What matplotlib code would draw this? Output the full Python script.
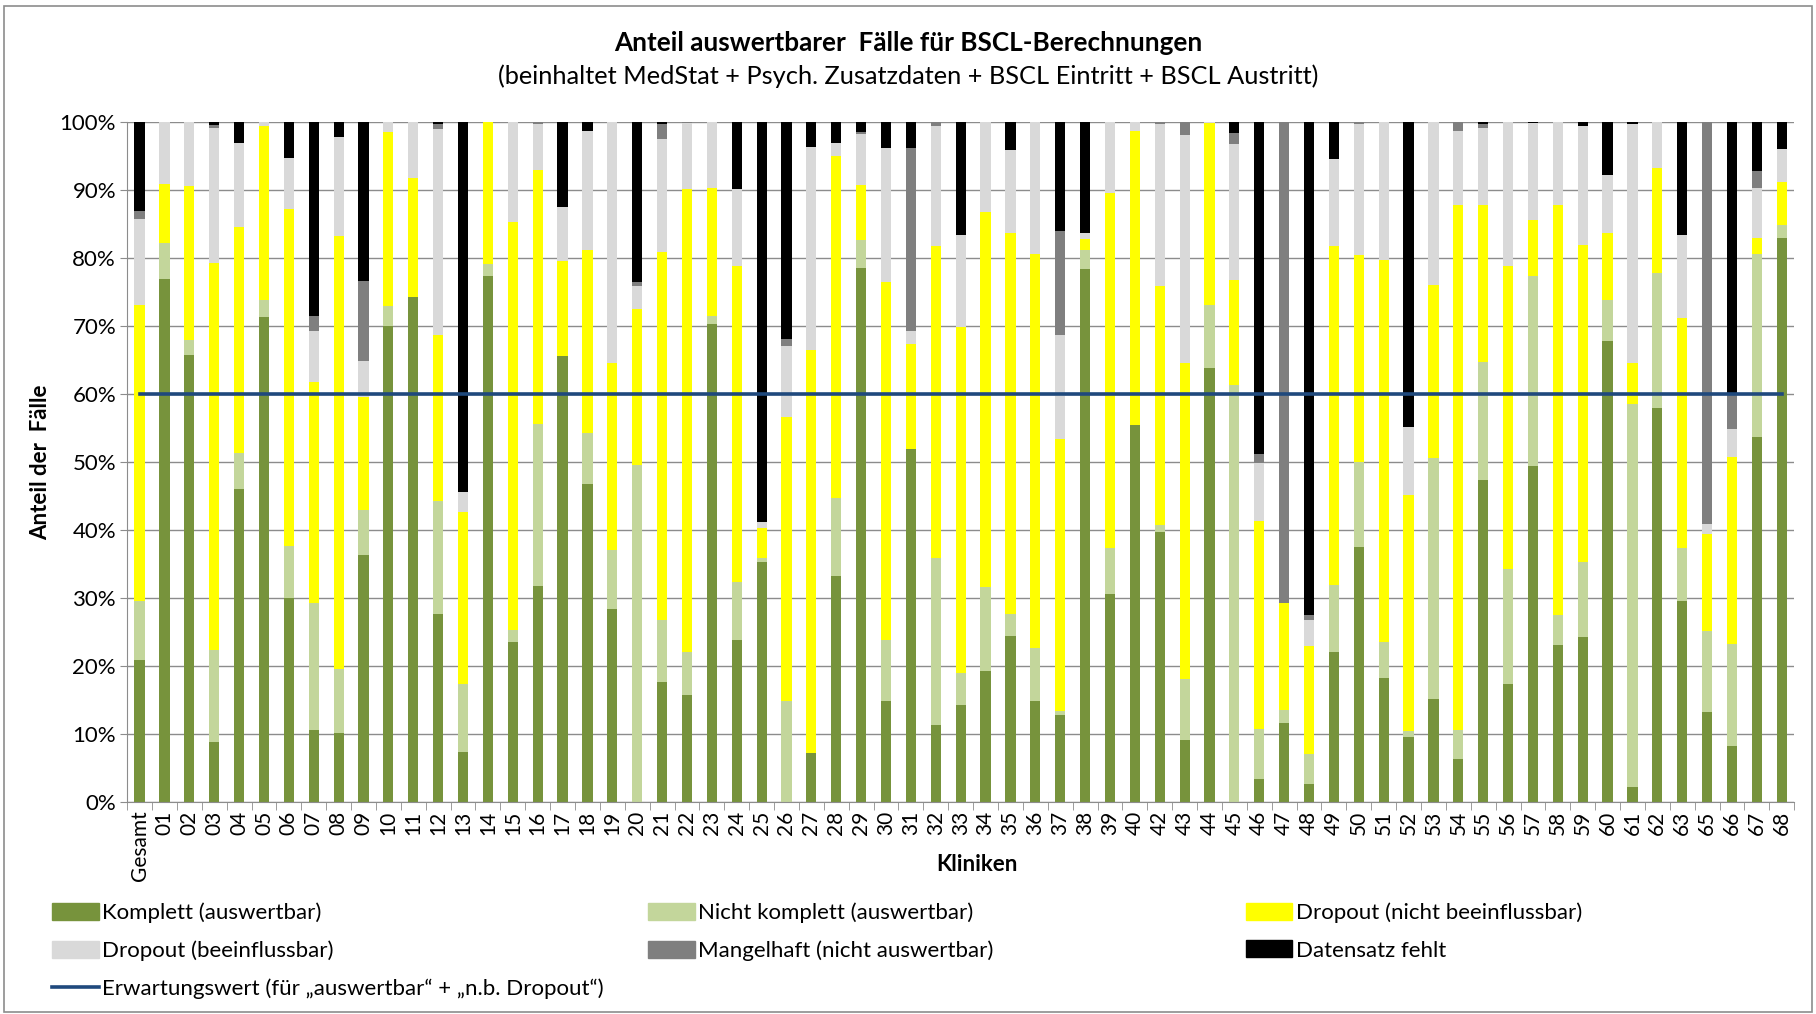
import numpy as np
import matplotlib
matplotlib.use("Agg")
import matplotlib.pyplot as plt
from matplotlib.patches import Patch, Rectangle
from matplotlib.lines import Line2D

plt.rcParams['font.family'] = ['Lato', 'DejaVu Sans']

# Kliniken (41 und 64 fehlen)
kliniken = ['Gesamt'] + ['%02d' % i for i in range(1, 41)] + [str(i) for i in range(42, 64)] + ['65', '66', '67', '68']

# kumulierte Obergrenzen (in %) je Kategorie
komplett_top = [20.9, 76.9, 65.7, 8.8, 46.0, 71.3, 30.0, 10.6, 10.1, 36.3, 70.0,
                74.3, 27.6, 7.3, 77.3, 23.6, 31.7, 65.6, 46.7, 28.4, 0.0,
                17.6, 15.8, 70.3, 23.8, 35.3, 0.0, 7.2, 33.3, 78.5, 14.9,
                51.9, 11.4, 14.3, 19.2, 24.4, 14.9, 12.8, 78.3, 30.6, 55.4,
                39.7, 9.1, 63.8, 0.0, 3.4, 11.6, 2.6, 22.1, 37.5, 18.2,
                9.5, 15.1, 6.4, 47.3, 17.4, 49.4, 23.1, 24.2, 67.8, 2.2,
                57.9, 29.5, 13.3, 8.2, 53.6, 82.9]
nicht_komplett_top = [29.5, 82.2, 67.9, 22.3, 51.3, 73.8, 37.7, 29.2, 19.6, 42.9, 72.9,
                      74.3, 44.2, 17.4, 79.1, 25.3, 55.6, 65.6, 54.3, 37.1, 49.6,
                      26.7, 22.0, 71.4, 32.4, 35.8, 14.9, 7.2, 44.7, 82.6, 23.8,
                      51.9, 35.8, 19.0, 31.6, 27.7, 22.6, 13.4, 81.1, 37.3, 55.4,
                      40.7, 18.1, 73.1, 61.3, 10.8, 13.6, 7.0, 31.9, 50.0, 23.6,
                      10.4, 50.5, 10.6, 64.7, 34.3, 77.3, 27.5, 35.3, 73.8, 58.5,
                      77.8, 37.4, 25.1, 23.2, 80.5, 84.8]
dropout_nb_top = [73.1, 90.8, 90.5, 79.3, 84.5, 99.4, 87.2, 61.8, 83.2, 59.6, 98.5,
                  91.7, 68.6, 42.7, 100.0, 85.3, 92.9, 79.5, 81.1, 64.6, 72.5,
                  80.8, 90.1, 90.3, 78.8, 40.3, 56.6, 66.4, 95.0, 90.7, 76.5,
                  67.3, 81.7, 69.8, 86.7, 83.7, 80.5, 53.3, 82.8, 89.5, 98.7,
                  75.8, 64.6, 99.8, 76.8, 41.3, 29.3, 22.9, 81.7, 80.4, 79.6,
                  45.1, 76.0, 87.7, 87.7, 78.8, 85.5, 87.8, 81.9, 83.7, 64.6,
                  93.2, 71.1, 39.4, 50.7, 82.9, 91.1]
dropout_b_top = [85.7, 100.0, 100.0, 99.0, 96.8, 100.0, 94.6, 69.3, 97.8, 64.8, 100.0,
                 100.0, 98.9, 45.6, 100.0, 100.0, 99.6, 87.5, 98.7, 100.0, 75.8,
                 97.5, 99.8, 100.0, 90.1, 41.2, 67.1, 96.3, 96.9, 98.2, 96.2,
                 69.3, 99.4, 83.4, 100.0, 95.8, 100.0, 68.6, 83.7, 100.0, 100.0,
                 99.7, 98.0, 100.0, 96.7, 49.9, 29.3, 26.7, 94.5, 99.6, 100.0,
                 55.1, 100.0, 98.7, 99.0, 100.0, 99.8, 100.0, 99.4, 92.2, 99.6,
                 100.0, 83.4, 40.8, 54.8, 90.3, 96.0]
mangelhaft_top = [86.9, 100.0, 100.0, 99.5, 96.8, 100.0, 94.6, 71.4, 97.8, 76.6, 100.0,
                  100.0, 99.6, 45.6, 100.0, 100.0, 100.0, 87.5, 98.7, 100.0, 76.5,
                  99.6, 100.0, 100.0, 90.1, 41.2, 68.1, 96.3, 96.9, 98.5, 96.2,
                  96.2, 100.0, 83.4, 100.0, 95.8, 100.0, 83.9, 83.7, 100.0, 100.0,
                  100.0, 100.0, 100.0, 98.3, 51.1, 100.0, 27.5, 94.5, 100.0, 100.0,
                  55.1, 100.0, 100.0, 99.6, 100.0, 99.8, 100.0, 99.4, 92.2, 99.6,
                  100.0, 83.4, 100.0, 59.9, 92.7, 96.0]
erwartungswert = 60

reihen = ['Komplett (auswertbar)', 'Nicht komplett (auswertbar)', 'Dropout (nicht beeinflussbar)',
          'Dropout (beeinflussbar)', 'Mangelhaft (nicht auswertbar)', 'Datensatz fehlt']
farben = ['#77933C', '#C3D69B', '#FFFF00', '#D9D9D9', '#7F7F7F', '#000000']

tops = np.array([komplett_top, nicht_komplett_top, dropout_nb_top, dropout_b_top,
                 mangelhaft_top, [100.0] * len(kliniken)]) / 100.0
bottoms = np.vstack([np.zeros(len(kliniken)), tops[:-1]])
heights = tops - bottoms

fig = plt.figure(figsize=(18.16, 10.14), dpi=100)
ax = fig.add_axes([0.070, 0.209, 0.918, 0.671])
x = np.arange(len(kliniken))

for i in range(6):
    ax.bar(x, heights[i], bottom=bottoms[i], width=0.41, color=farben[i], zorder=2)
ax.plot([x[0], x[-1]], [erwartungswert / 100, erwartungswert / 100], color='#1F497D', lw=2.6, zorder=3)

ax.set_xlim(-0.5, len(kliniken) - 0.5)
ax.set_ylim(0, 1)
ax.set_yticks(np.arange(0, 1.01, 0.1))
ax.set_yticklabels(['%d%%' % v for v in range(0, 101, 10)], fontsize=16)
ax.yaxis.grid(True, color='#8C8C8C', lw=1, zorder=0)
ax.tick_params(axis='y', length=5, color='#8C8C8C', pad=3)
ax.set_xticks(x)
ax.set_xticklabels(kliniken, rotation=90, fontsize=15)
ax.tick_params(axis='x', length=0, pad=6)
ax.set_xticks(np.arange(-0.5, len(kliniken), 1), minor=True)
ax.tick_params(axis='x', which='minor', length=6, color='#8C8C8C')
for s in ['top', 'right']:
    ax.spines[s].set_visible(False)
for s in ['left', 'bottom']:
    ax.spines[s].set_color('#8C8C8C')

ax.set_ylabel('Anteil der  Fälle', fontsize=16, fontweight='bold', labelpad=6)
fig.text(0.538, 0.147, 'Kliniken', fontsize=16, fontweight='bold', ha='center', va='center')

fig.text(0.5, 0.958, 'Anteil auswertbarer  Fälle für BSCL-Berechnungen', fontsize=18.8,
         fontweight='bold', ha='center', va='center')
fig.text(0.5, 0.925, '(beinhaltet MedStat + Psych. Zusatzdaten + BSCL Eintritt + BSCL Austritt)',
         fontsize=18.3, ha='center', va='center')

# Legende in drei Spalten
h = [Patch(color=c) for c in farben]
linie = Line2D([], [], color='#1F497D', lw=2.6)
spalten = [([h[0], h[3], linie], [reihen[0], reihen[3], 'Erwartungswert (für „auswertbar“ + „n.b. Dropout“)']),
           ([h[1], h[4]], [reihen[1], reihen[4]]),
           ([h[2], h[5]], [reihen[2], reihen[5]])]
for xpos, (hd, lb) in zip([0.0286, 0.357, 0.686], spalten):
    fig.legend(hd, lb, loc='upper left', bbox_to_anchor=(xpos, 0.110), frameon=False,
               fontsize=16, handlelength=2.1, handleheight=0.8, handletextpad=0.15,
               labelspacing=0.78, borderaxespad=0, borderpad=0)

fig.add_artist(Rectangle((0.002, 0.002), 0.996, 0.992, transform=fig.transFigure,
                         fill=False, edgecolor='#8C8C8C', lw=1.2))

fig.savefig('out.png', dpi=100)
